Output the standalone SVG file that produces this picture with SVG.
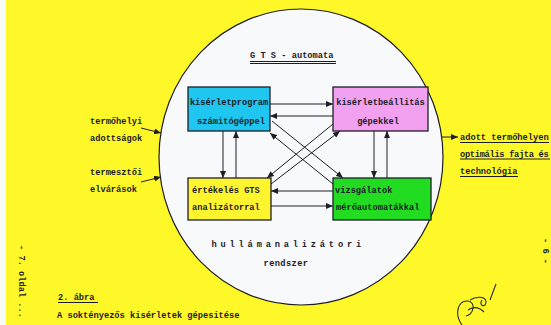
<svg xmlns="http://www.w3.org/2000/svg" width="551" height="325" viewBox="0 0 551 325">
<defs>
<style>
.t{font-family:"Liberation Mono","DejaVu Sans Mono",monospace;font-size:8.7px;font-weight:bold;fill:#1c1c28}
.box{stroke:#1e1e28;stroke-width:1.3}
.c{fill:none;stroke:#1e1e28;stroke-width:1}
.u{stroke:#1e1e28;stroke-width:1}
</style>
<marker id="ah" viewBox="0 0 7 6" refX="7" refY="3" markerWidth="7" markerHeight="6" markerUnits="userSpaceOnUse" orient="auto">
<path d="M0,0 L7,3 L0,6 z" fill="#1e1e28"/>
</marker>
</defs>
<rect x="0" y="0" width="551" height="325" fill="#fff829"/>
<rect x="0" y="0" width="6" height="325" fill="#fbfbf4"/>
<g id="circle">
<ellipse cx="301" cy="157" rx="142" ry="148" fill="#f8f9fb" stroke="#1e1e28" stroke-width="1.2"/>
<text class="t" x="250" y="58">G T S - automata</text>
<line class="u" x1="250" y1="61.5" x2="336" y2="61.5"/>
<line class="u" x1="250" y1="63.5" x2="336" y2="63.5"/>
<text class="t" x="286" y="247" text-anchor="middle" letter-spacing="-0.7">h u l l á m a n a l i z á t o r i</text>
<text class="t" x="286" y="266" text-anchor="middle" letter-spacing="0.4">rendszer</text>
</g>
<g id="n1">
<rect class="box" x="188" y="87" width="82" height="44" fill="#1ec6f0"/>
<text class="t" x="229" y="104.5" text-anchor="middle">kisérletprogram</text>
<text class="t" x="231" y="123.5" text-anchor="middle">számitógéppel</text>
</g>
<g id="n2">
<rect class="box" x="333" y="87" width="95" height="44" fill="#f2a0f0"/>
<text class="t" x="380.5" y="104.5" text-anchor="middle">kisérletbeállitás</text>
<text class="t" x="378" y="123.5" text-anchor="middle">gépekkel</text>
</g>
<g id="n3">
<rect class="box" x="188" y="178" width="83" height="42" fill="#fff52e"/>
<text class="t" x="192" y="192.5">értékelés GTS</text>
<text class="t" x="192" y="210">analizátorral</text>
</g>
<g id="n4">
<rect class="box" x="333" y="178" width="98" height="42" fill="#22dc22"/>
<text class="t" x="335" y="192.5">vizsgálatok</text>
<text class="t" x="336" y="210">mérőautomatákkal</text>
</g>
<g id="in1">
<text class="t" x="90" y="123.5">termőhelyi</text>
<text class="t" x="90" y="140.5">adottságok</text>
</g>
<g id="in2">
<text class="t" x="90" y="174.5">termesztői</text>
<text class="t" x="90" y="192">elvárások</text>
</g>
<g id="out">
<text class="t" x="460" y="139.5">adott termőhelyen</text>
<line class="u" x1="460" y1="142.5" x2="549" y2="142.5"/>
<text class="t" x="460" y="156.5" letter-spacing="-0.3">optimális fajta és</text>
<line class="u" x1="460" y1="159" x2="550" y2="159"/>
<text class="t" x="460" y="173.5">technológia</text>
<line class="u" x1="460" y1="176.5" x2="518" y2="176.5"/>
</g>
<g id="connectors">
<path class="c" d="M270,104 H333" marker-end="url(#ah)"/>
<path class="c" d="M333,116 H270" marker-end="url(#ah)"/>
<path class="c" d="M333,191 H271" marker-end="url(#ah)"/>
<path class="c" d="M271,206 H333" marker-end="url(#ah)"/>
<path class="c" d="M223,131 V178" marker-end="url(#ah)"/>
<path class="c" d="M236,178 V131" marker-end="url(#ah)"/>
<path class="c" d="M374,131 V178" marker-end="url(#ah)"/>
<path class="c" d="M387,178 V131" marker-end="url(#ah)"/>
<path class="c" d="M272,121 L343,178" marker-end="url(#ah)"/>
<path class="c" d="M333,184 L270,133" marker-end="url(#ah)"/>
<path class="c" d="M333,124 L267,178" marker-end="url(#ah)"/>
<path class="c" d="M271,184 L340,131" marker-end="url(#ah)"/>
<path class="c" d="M141,128 L161,133" marker-end="url(#ah)"/>
<path class="c" d="M141,182 L161,177" marker-end="url(#ah)"/>
<path class="c" d="M441,137 L458,137" marker-end="url(#ah)"/>
</g>
<g id="page">
<text class="t" x="58" y="300">2. ábra</text>
<line class="u" x1="58" y1="302.5" x2="98" y2="302.5"/>
<text class="t" x="57" y="318">A soktényezős kisérletek gépesitése</text>
<text class="t" transform="translate(19,245) rotate(90)">- 7. oldal ...</text>
<text class="t" transform="translate(543,238) rotate(90)">- 6 -</text>
<path d="M462,325 C454,314 458,300 468,301 C476,302 474,314 466,316 M470,300 C476,296 486,296 486,302 C486,308 478,306 482,300 M496,284 L490,300 M468,310 C474,306 480,308 484,312" fill="none" stroke="#2a2a30" stroke-width="1.1"/>
</g>
</svg>
